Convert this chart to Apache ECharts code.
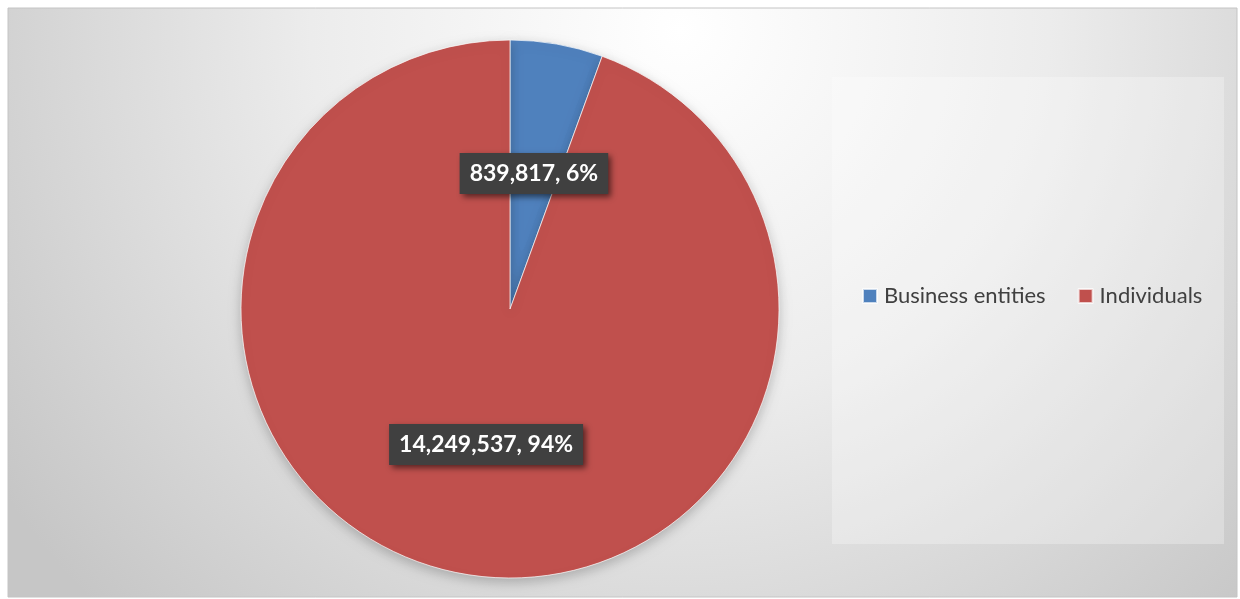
<!DOCTYPE html>
<html>
<head>
<meta charset="utf-8">
<script src="https://cdn.jsdelivr.net/npm/echarts@6/dist/echarts.min.js"></script>
<style>
html,body{margin:0;padding:0;background:#fff;}
#main{width:1240px;height:599px;}
</style>
</head>
<body>
<div id="main"></div>
<script>
var categories = ['Business entities', 'Individuals'];
var values = [839817, 14249537];
var colors = ['#4F81BD', '#C0504D'];

var chart = echarts.init(document.getElementById('main'), null, {renderer: 'canvas'});
var data = categories.map(function (c, i) {
  return {name: c, value: values[i], itemStyle: {color: colors[i]}};
});

var option = {
  animation: false,
  graphic: [
    {
      type: 'rect', z: -10, silent: true,
      shape: {x: 8, y: 8, width: 1229, height: 589},
      style: {
        fill: new echarts.graphic.RadialGradient(680, 30, 820, [
          {offset: 0, color: '#ffffff'},
          {offset: 0.45, color: '#ececec'},
          {offset: 1, color: '#c6c6c6'}
        ], true),
        stroke: '#c4c4c4', lineWidth: 1
      }
    },
    {
      type: 'rect', z: -5, silent: true,
      shape: {x: 832, y: 77, width: 392, height: 467},
      style: {fill: 'rgba(255,255,255,0.28)'}
    }
  ],
  legend: {
    data: categories,
    left: 862,
    top: 285,
    padding: 0,
    orient: 'horizontal',
    icon: 'rect',
    itemWidth: 14,
    itemHeight: 14,
    itemGap: 32,
    textStyle: {
      fontFamily: 'Lato',
      fontSize: 22,
      color: '#404040',
      padding: [0, 0, 0, 2]
    }
  },
  series: [{
    type: 'pie',
    center: [510, 309],
    radius: 269,
    startAngle: 90,
    clockwise: true,
    data: data,
    itemStyle: {
      borderColor: 'rgba(255,255,255,0.7)',
      borderWidth: 1,
      shadowBlur: 12,
      shadowColor: 'rgba(0,0,0,0.22)',
      shadowOffsetY: 4
    },
    label: {
      show: true,
      position: 'inside',
      formatter: function (p) {
        return p.value.toLocaleString('en-US') + ', ' + Math.round(p.percent) + '%';
      },
      fontFamily: 'Lato',
      fontWeight: 'bold',
      fontSize: 23,
      color: '#ffffff',
      backgroundColor: '#404040',
      padding: [9, 10, 9, 10],
      shadowColor: 'rgba(0,0,0,0.55)',
      shadowBlur: 6,
      shadowOffsetX: 3,
      shadowOffsetY: 3
    },
    labelLine: {show: false},
    emphasis: {disabled: true}
  }]
};
chart.setOption(option);
</script>
</body>
</html>
